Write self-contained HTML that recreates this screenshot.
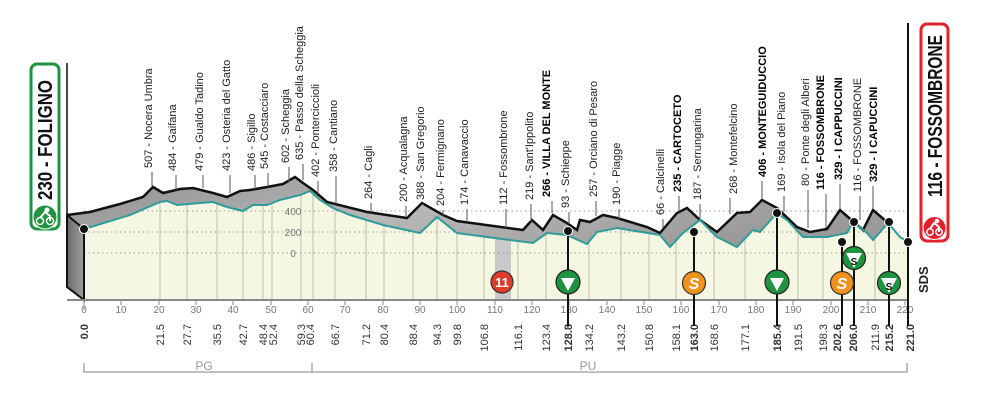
<!DOCTYPE html>
<html><head><meta charset="utf-8"><style>
html,body{margin:0;padding:0;background:#fff;}
svg{display:block;font-family:"Liberation Sans",sans-serif;}
.t{font-size:11px;fill:#222;}
.b{font-weight:bold;fill:#000;}
.k{font-size:11px;fill:#333;}
.ax{font-size:10px;fill:#777;}
</style></head><body>
<svg width="986" height="404" viewBox="0 0 986 404" xmlns="http://www.w3.org/2000/svg">
<defs>
<linearGradient id="g" x1="0" y1="0" x2="1" y2="0.3">
<stop offset="0" stop-color="#8e8e8e"/><stop offset="0.5" stop-color="#b8b8b8"/><stop offset="1" stop-color="#9a9a9a"/>
</linearGradient>
<linearGradient id="w" x1="0" y1="0" x2="1" y2="0"><stop offset="0" stop-color="#6a6a6a"/><stop offset="1" stop-color="#a0a0a0"/></linearGradient>
</defs>
<polygon fill="#f6f7e2" points="84,229 130,215 160,202 167,201 177,205 200,203 213,202 227,207 243,211 253,205 267,205 280,200 300,195 310,191 320,200 333,208 350,215 383,225 420,233 437,217 457,233 487,237 533,243 547,233 567,235 587,244 597,232 617,228 660,235 670,247 683,233 700,220 717,237 737,247 753,230 760,232 777,213 787,220 803,237 827,237 847,233 853,222 867,233 873,240 888,223 900,237 908,242 908,300 84,300"/>
<rect x="495" y="238" width="16" height="62" fill="#c9c9c9"/>
<g stroke="#bdbdb0" stroke-width="1">
<line x1="160" y1="202" x2="160" y2="300"/><line x1="187" y1="203" x2="187" y2="300"/><line x1="217" y1="203" x2="217" y2="300"/><line x1="243" y1="211" x2="243" y2="300"/><line x1="263" y1="206" x2="263" y2="300"/><line x1="272" y1="204" x2="272" y2="300"/><line x1="301" y1="195" x2="301" y2="300"/><line x1="313" y1="193" x2="313" y2="300"/><line x1="335" y1="208" x2="335" y2="300"/><line x1="366" y1="220" x2="366" y2="300"/><line x1="384" y1="225" x2="384" y2="300"/><line x1="413" y1="232" x2="413" y2="300"/><line x1="437" y1="217" x2="437" y2="300"/><line x1="457" y1="233" x2="457" y2="300"/><line x1="484" y1="237" x2="484" y2="300"/><line x1="518" y1="240" x2="518" y2="300"/><line x1="546" y1="234" x2="546" y2="300"/><line x1="589" y1="242" x2="589" y2="300"/><line x1="621" y1="229" x2="621" y2="300"/><line x1="649" y1="233" x2="649" y2="300"/><line x1="676" y1="237" x2="676" y2="300"/><line x1="714" y1="234" x2="714" y2="300"/><line x1="745" y1="240" x2="745" y2="300"/><line x1="798" y1="233" x2="798" y2="300"/><line x1="823" y1="237" x2="823" y2="300"/><line x1="875" y1="232" x2="875" y2="300"/>
</g>
<g stroke="#999" stroke-width="1" stroke-dasharray="1.5,3">
<line x1="84" y1="211" x2="908" y2="211"/><line x1="84" y1="232" x2="908" y2="232"/><line x1="84" y1="253" x2="908" y2="253"/>
</g>
<g class="ax" text-anchor="middle"><text x="293" y="215">400</text><text x="293" y="236">200</text><text x="293" y="257">0</text></g>
<polygon fill="url(#g)" points="67,215 90,212 120,204 143,197 153,187 163,193 180,189 193,188 213,193 227,197 240,191 250,190 267,187 283,184 295,177 303,183 313,190 327,202 367,212 407,218 422,203 443,215 457,221 523,230 532,220 543,230 553,215 567,223 577,230 580,220 590,222 603,215 617,218 647,227 660,233 677,213 687,208 700,220 717,232 737,213 750,212 762,200 777,208 797,227 810,232 827,229 840,210 848,217 863,230 873,210 887,222 888,223 873,240 867,233 853,222 847,233 827,237 803,237 787,220 777,213 760,232 753,230 737,247 717,237 700,220 683,233 670,247 660,235 617,228 597,232 587,244 567,235 547,233 533,243 487,237 457,233 437,217 420,233 383,225 350,215 333,208 320,200 310,191 300,195 280,200 267,205 253,205 243,211 227,207 213,202 200,203 177,205 167,201 160,202 130,215 84,229"/>
<polygon fill="url(#w)" stroke="#111" stroke-width="2" points="67,215 84,229 84,300 67,287"/>
<polyline fill="none" stroke="#111" stroke-width="2.5" points="67,215 90,212 120,204 143,197 153,187 163,193 180,189 193,188 213,193 227,197 240,191 250,190 267,187 283,184 295,177 303,183 313,190 327,202 367,212 407,218 422,203 443,215 457,221 523,230 532,220 543,230 553,215 567,223 577,230 580,220 590,222 603,215 617,218 647,227 660,233 677,213 687,208 700,220 717,232 737,213 750,212 762,200 777,208 797,227 810,232 827,229 840,210 848,217 863,230 873,210 887,222"/>
<polyline fill="none" stroke="#2f9c9c" stroke-width="2" points="84,229 130,215 160,202 167,201 177,205 200,203 213,202 227,207 243,211 253,205 267,205 280,200 300,195 310,191 320,200 333,208 350,215 383,225 420,233 437,217 457,233 487,237 533,243 547,233 567,235 587,244 597,232 617,228 660,235 670,247 683,233 700,220 717,237 737,247 753,230 760,232 777,213 787,220 803,237 827,237 847,233 853,222 867,233 873,240 888,223 900,237 908,242"/>
<line x1="67" y1="300" x2="909" y2="300" stroke="#888" stroke-width="2"/>
<g stroke="#888"><line x1="84" y1="300" x2="84" y2="310"/><line x1="121" y1="300" x2="121" y2="305"/><line x1="159" y1="300" x2="159" y2="305"/><line x1="196" y1="300" x2="196" y2="305"/><line x1="233" y1="300" x2="233" y2="305"/><line x1="271" y1="300" x2="271" y2="305"/><line x1="308" y1="300" x2="308" y2="305"/><line x1="345" y1="300" x2="345" y2="305"/><line x1="383" y1="300" x2="383" y2="305"/><line x1="420" y1="300" x2="420" y2="305"/><line x1="457" y1="300" x2="457" y2="305"/><line x1="495" y1="300" x2="495" y2="305"/><line x1="532" y1="300" x2="532" y2="305"/><line x1="569" y1="300" x2="569" y2="305"/><line x1="607" y1="300" x2="607" y2="305"/><line x1="644" y1="300" x2="644" y2="305"/><line x1="681" y1="300" x2="681" y2="305"/><line x1="719" y1="300" x2="719" y2="305"/><line x1="756" y1="300" x2="756" y2="305"/><line x1="793" y1="300" x2="793" y2="305"/><line x1="831" y1="300" x2="831" y2="305"/><line x1="868" y1="300" x2="868" y2="305"/><line x1="905" y1="300" x2="905" y2="305"/></g>
<g class="ax" text-anchor="middle">
<text x="84" y="313">0</text><text x="121" y="313">10</text><text x="159" y="313">20</text><text x="196" y="313">30</text><text x="233" y="313">40</text><text x="271" y="313">50</text><text x="308" y="313">60</text><text x="345" y="313">70</text><text x="383" y="313">80</text><text x="420" y="313">90</text><text x="457" y="313">100</text><text x="495" y="313">110</text><text x="532" y="313">120</text><text x="569" y="313">130</text><text x="607" y="313">140</text><text x="644" y="313">150</text><text x="681" y="313">160</text><text x="719" y="313">170</text><text x="756" y="313">180</text><text x="793" y="313">190</text><text x="831" y="313">200</text><text x="868" y="313">210</text><text x="905" y="313">220</text>
</g>
<g class="k" text-anchor="end">
<text transform="translate(88,324) rotate(-90)" class="k b">0.0</text>
<text transform="translate(164,324) rotate(-90)">21.5</text>
<text transform="translate(191,324) rotate(-90)">27.7</text>
<text transform="translate(221,324) rotate(-90)">35.5</text>
<text transform="translate(247,324) rotate(-90)">42.7</text>
<text transform="translate(267,324) rotate(-90)">48.4</text>
<text transform="translate(277,324) rotate(-90)">52.4</text>
<text transform="translate(305,324) rotate(-90)">59.3</text>
<text transform="translate(314,324) rotate(-90)">60.4</text>
<text transform="translate(339,324) rotate(-90)">66.7</text>
<text transform="translate(370,324) rotate(-90)">71.2</text>
<text transform="translate(388,324) rotate(-90)">80.4</text>
<text transform="translate(417,324) rotate(-90)">88.4</text>
<text transform="translate(441,324) rotate(-90)">94.3</text>
<text transform="translate(461,324) rotate(-90)">99.8</text>
<text transform="translate(488,324) rotate(-90)">106.8</text>
<text transform="translate(522,324) rotate(-90)">116.1</text>
<text transform="translate(550,324) rotate(-90)">123.4</text>
<text transform="translate(572,324) rotate(-90)" class="k b">128.8</text>
<text transform="translate(593,324) rotate(-90)">134.2</text>
<text transform="translate(625,324) rotate(-90)">143.2</text>
<text transform="translate(653,324) rotate(-90)">150.8</text>
<text transform="translate(680,324) rotate(-90)">158.1</text>
<text transform="translate(698,324) rotate(-90)" class="k b">163.0</text>
<text transform="translate(718,324) rotate(-90)">168.6</text>
<text transform="translate(749,324) rotate(-90)">177.1</text>
<text transform="translate(781,324) rotate(-90)" class="k b">185.4</text>
<text transform="translate(802,324) rotate(-90)">191.5</text>
<text transform="translate(827,324) rotate(-90)">198.3</text>
<text transform="translate(841,324) rotate(-90)" class="k b">202.6</text>
<text transform="translate(857,324) rotate(-90)" class="k b">206.0</text>
<text transform="translate(879,324) rotate(-90)">211.9</text>
<text transform="translate(893,324) rotate(-90)" class="k b">215.2</text>
<text transform="translate(914,324) rotate(-90)" class="k b">221.0</text>
</g>
<g stroke="#aaa" stroke-width="1.5" fill="none"><polyline points="84,363 84,372 907,372 907,363"/><line x1="312" y1="363" x2="312" y2="372"/></g>
<g font-size="12" fill="#999" text-anchor="middle"><text x="204" y="370">PG</text><text x="588" y="370">PU</text></g>
<g stroke="#111" stroke-width="2">
<line x1="568" y1="230" x2="568" y2="326"/><line x1="694" y1="231" x2="694" y2="326"/><line x1="777" y1="213" x2="777" y2="326"/><line x1="842" y1="242" x2="842" y2="326"/><line x1="854" y1="222" x2="854" y2="326"/><line x1="889" y1="222" x2="889" y2="326"/><line x1="908" y1="23" x2="908" y2="326"/><line x1="67" y1="63" x2="67" y2="215" stroke-width="1.5"/>
</g>
<g fill="#111" stroke="#fff" stroke-width="1"><circle cx="84" cy="229" r="4.5"/><circle cx="568" cy="231" r="4.5"/><circle cx="694" cy="232" r="4.5"/><circle cx="777" cy="213" r="4.5"/><circle cx="842" cy="242" r="4.5"/><circle cx="854" cy="222" r="4.5"/><circle cx="889" cy="222" r="4.5"/><circle cx="908" cy="242" r="4.5"/></g>
<circle cx="502" cy="282" r="11" fill="#e03a2a" stroke="#333" stroke-width="1.2"/>
<text x="502" y="287" font-size="13" font-weight="bold" fill="#fff" text-anchor="middle">11</text>
<g><circle cx="568" cy="282" r="12" fill="#1e9440" stroke="#222" stroke-width="1.2"/><polygon points="561,278 575,278 568,291" fill="#fff"/></g>
<g><circle cx="777" cy="282" r="12" fill="#1e9440" stroke="#222" stroke-width="1.2"/><polygon points="770,278 784,278 777,291" fill="#fff"/></g>
<g><circle cx="694" cy="283" r="11.5" fill="#f0921e" stroke="#333" stroke-width="1.2"/><text x="694" y="289" font-size="16" font-weight="bold" font-style="italic" fill="#fff" text-anchor="middle">S</text></g>
<g><circle cx="842" cy="283" r="11.5" fill="#f0921e" stroke="#333" stroke-width="1.2"/><text x="842" y="289" font-size="16" font-weight="bold" font-style="italic" fill="#fff" text-anchor="middle">S</text></g>
<g><circle cx="854" cy="258" r="11.5" fill="#1e9440" stroke="#222" stroke-width="1.2"/><polygon points="846,253 862,253 854,268" fill="#fff"/><text x="854" y="265" font-size="10" font-weight="bold" fill="#111" text-anchor="middle">S</text></g>
<g><circle cx="889" cy="283" r="11.5" fill="#1e9440" stroke="#222" stroke-width="1.2"/><polygon points="881,278 897,278 889,293" fill="#fff"/><text x="889" y="290" font-size="10" font-weight="bold" fill="#111" text-anchor="middle">S</text></g>
<text transform="translate(928,293) rotate(-90)" font-size="13" font-weight="bold" fill="#222">SDS</text>
<rect x="31" y="64" width="28" height="165" rx="6" fill="#fff" stroke="#1e9440" stroke-width="3"/>
<text transform="translate(52,200) rotate(-90)" font-size="20" font-weight="bold" fill="#111" textLength="120" lengthAdjust="spacingAndGlyphs">230 - FOLIGNO</text>
<circle cx="45" cy="217" r="12" fill="#1e9440" stroke="#fff" stroke-width="1"/>
<circle cx="40" cy="221" r="3.5" fill="none" stroke="#fff" stroke-width="1.5"/><circle cx="50" cy="221" r="3.5" fill="none" stroke="#fff" stroke-width="1.5"/><circle cx="47" cy="210" r="2.5" fill="#fff"/><path d="M40,218 L45,212 L50,216 L50,221" stroke="#fff" stroke-width="2" fill="none"/>
<rect x="921" y="24" width="27" height="217" rx="6" fill="#fff" stroke="#e0222a" stroke-width="3"/>
<text transform="translate(942,197) rotate(-90)" font-size="20" font-weight="bold" fill="#111" textLength="162" lengthAdjust="spacingAndGlyphs">116 - FOSSOMBRONE</text>
<circle cx="934.5" cy="228" r="11.5" fill="#e0222a" stroke="#fff" stroke-width="1"/>
<circle cx="930" cy="232" r="3.2" fill="none" stroke="#fff" stroke-width="1.5"/><circle cx="939" cy="232" r="3.2" fill="none" stroke="#fff" stroke-width="1.5"/><circle cx="937" cy="221" r="2.3" fill="#fff"/><path d="M930,229 L934,223 L939,227 L939,232" stroke="#fff" stroke-width="2" fill="none"/>
<g stroke="#555" stroke-width="1">
<line x1="152" y1="172" x2="152" y2="186"/><line x1="176" y1="175" x2="176" y2="190"/><line x1="203" y1="175" x2="203" y2="188"/><line x1="230" y1="175" x2="230" y2="193"/><line x1="255" y1="175" x2="255" y2="189"/><line x1="268" y1="173" x2="268" y2="187"/><line x1="289" y1="167" x2="289" y2="182"/><line x1="303" y1="164" x2="303" y2="180"/><line x1="318" y1="181" x2="318" y2="194"/><line x1="336" y1="176" x2="336" y2="204"/><line x1="371" y1="203" x2="371" y2="213"/><line x1="406" y1="206" x2="406" y2="216"/><line x1="423" y1="204" x2="423" y2="205"/><line x1="443" y1="210" x2="443" y2="216"/><line x1="467" y1="209" x2="467" y2="222"/><line x1="506" y1="209" x2="506" y2="228"/><line x1="531" y1="204" x2="531" y2="222"/><line x1="552" y1="201" x2="552" y2="213"/><line x1="569" y1="212" x2="569" y2="224"/><line x1="596" y1="201" x2="596" y2="216"/><line x1="619" y1="209" x2="619" y2="219"/><line x1="663" y1="219" x2="663" y2="228"/><line x1="679" y1="196" x2="679" y2="212"/><line x1="700" y1="204" x2="700" y2="218"/><line x1="730" y1="198" x2="730" y2="214"/><line x1="762" y1="181" x2="762" y2="199"/><line x1="784" y1="196" x2="784" y2="212"/><line x1="808" y1="190" x2="808" y2="228"/><line x1="826" y1="194" x2="826" y2="228"/><line x1="840" y1="184" x2="840" y2="209"/><line x1="860" y1="196" x2="860" y2="220"/><line x1="873" y1="186" x2="873" y2="209"/>
</g>
<g class="t">
<text transform="translate(152,168) rotate(-90)">507 - Nocera Umbra</text>
<text transform="translate(176,171) rotate(-90)">484 - Gaifana</text>
<text transform="translate(203,171) rotate(-90)">479 - Gualdo Tadino</text>
<text transform="translate(230,171) rotate(-90)">423 - Osteria del Gatto</text>
<text transform="translate(255,171) rotate(-90)">486 - Sigillo</text>
<text transform="translate(268,169) rotate(-90)">545 - Costacciaro</text>
<text transform="translate(289,163) rotate(-90)">602 - Scheggia</text>
<text transform="translate(303,160) rotate(-90)">635 - Passo della Scheggia</text>
<text transform="translate(319,177) rotate(-90)">402 - Ponterciccioli</text>
<text transform="translate(337,172) rotate(-90)">358 - Cantiano</text>
<text transform="translate(372,199) rotate(-90)">264 - Cagli</text>
<text transform="translate(407,202) rotate(-90)">200 - Acqualagna</text>
<text transform="translate(424,200) rotate(-90)">388 - San Gregorio</text>
<text transform="translate(444,206) rotate(-90)">204 - Fermignano</text>
<text transform="translate(468,205) rotate(-90)">174 - Canavaccio</text>
<text transform="translate(507,205) rotate(-90)">112 - Fossombrone</text>
<text transform="translate(533,200) rotate(-90)">219 - Sant'Ippolito</text>
<text transform="translate(550,197) rotate(-90)" class="t b">266 - VILLA DEL MONTE</text>
<text transform="translate(569,208) rotate(-90)">93 - Schieppe</text>
<text transform="translate(597,197) rotate(-90)">257 - Orciano di Pesaro</text>
<text transform="translate(620,205) rotate(-90)">190 - Piagge</text>
<text transform="translate(664,215) rotate(-90)">66 - Calcinelli</text>
<text transform="translate(681,192) rotate(-90)" class="t b">235 - CARTOCETO</text>
<text transform="translate(701,200) rotate(-90)">187 - Serrungarina</text>
<text transform="translate(737,194) rotate(-90)">268 - Montefelcino</text>
<text transform="translate(766,177) rotate(-90)" class="t b">406 - MONTEGUIDUCCIO</text>
<text transform="translate(785,192) rotate(-90)">169 - Isola del Piano</text>
<text transform="translate(809,186) rotate(-90)">80 - Ponte degli Alberi</text>
<text transform="translate(824,190) rotate(-90)" class="t b">116 - FOSSOMBRONE</text>
<text transform="translate(842,180) rotate(-90)" class="t b">329 - I CAPPUCCINI</text>
<text transform="translate(861,192) rotate(-90)">116 - FOSSOMBRONE</text>
<text transform="translate(877,182) rotate(-90)" class="t b">329 - I CAPUCCINI</text>
</g>
</svg>
</body></html>
